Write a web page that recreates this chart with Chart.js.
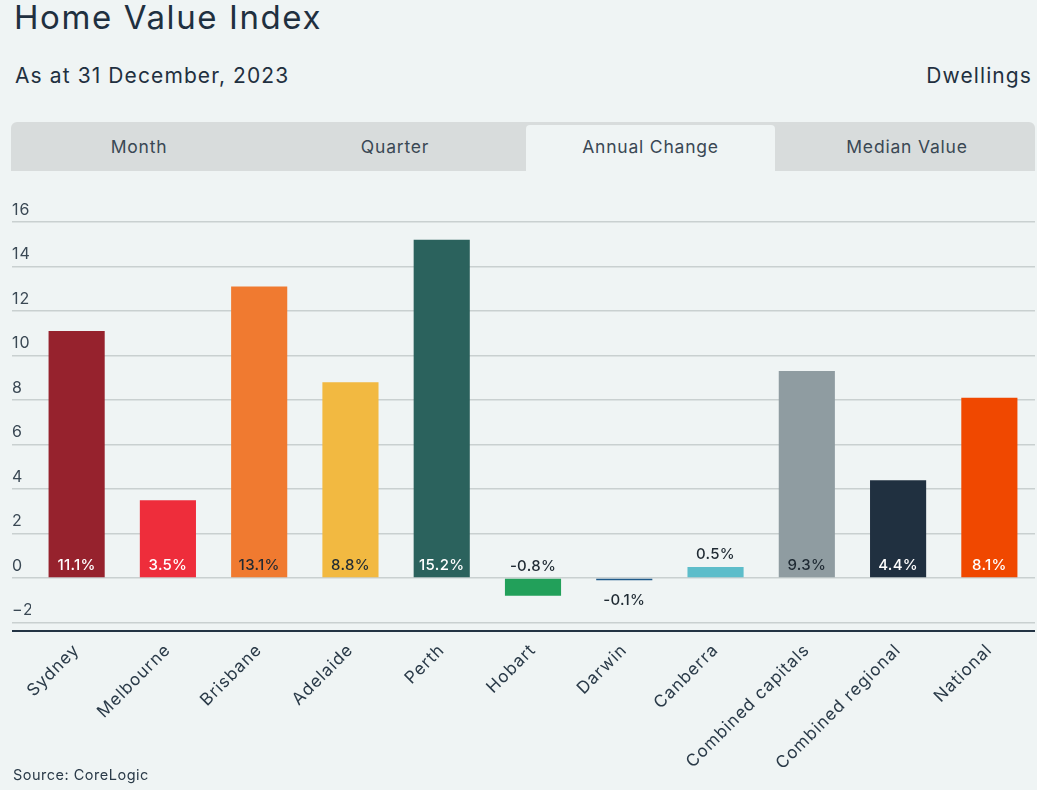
<!DOCTYPE html>
<html>
<head>
<meta charset="utf-8">
<script src="https://cdn.jsdelivr.net/npm/chart.js@4.4.0/dist/chart.umd.min.js"></script>
<style>
  html, body { margin: 0; padding: 0; }
  body {
    width: 1037px; height: 790px; overflow: hidden; position: relative;
    background: #eff4f4; font-family: Inter, "Noto Sans", sans-serif; color: #1f3040;
  }
  #title { position: absolute; left: 14px; top: -3px; font-size: 33px; letter-spacing: 1.6px; }
  #sub { position: absolute; left: 15px; top: 63px; font-size: 21px; letter-spacing: 1.1px; }
  #dw { position: absolute; right: 5px; top: 63px; font-size: 21px; letter-spacing: 1.1px; }
  #tabs {
    position: absolute; left: 11px; top: 122px; width: 1024px; height: 49px;
    background: #d8dcdc; border-radius: 6px 6px 0 0;
  }
  .tab { position: absolute; top: 0; height: 49px; width: 256px; text-align: center;
         line-height: 49px; font-size: 17.5px; letter-spacing: 0.8px; color: #3a4854; }
  .tab.on { background: #eff4f4; top: 3px; height: 46px; line-height: 43px;
            border-radius: 4px 4px 0 0; margin-left: 3px; width: 249px; }
  #wrap { position: absolute; left: 11px; top: 190px; width: 1024px; height: 600px; }
  #src { position: absolute; left: 13px; top: 766px; font-size: 14.5px; letter-spacing: 0.5px; color: #2a3a48; }
</style>
</head>
<body>
<div id="title">Home Value Index</div>
<div id="sub">As at 31 December, 2023</div>
<div id="dw">Dwellings</div>
<div id="tabs">
  <div class="tab" style="left:0">Month</div>
  <div class="tab" style="left:256px">Quarter</div>
  <div class="tab on" style="left:512px">Annual Change</div>
  <div class="tab" style="left:768px">Median Value</div>
</div>
<div id="wrap"><canvas id="chart"></canvas></div>
<div id="src">Source: CoreLogic</div>
<script>
const regions = ['Sydney', 'Melbourne', 'Brisbane', 'Adelaide', 'Perth', 'Hobart', 'Darwin',
  'Canberra', 'Combined capitals', 'Combined regional', 'National']
const annualChange = [11.1, 3.5, 13.1, 8.8, 15.2, -0.8, -0.1, 0.5, 9.3, 4.4, 8.1]
const yTicks = [-2, 0, 2, 4, 6, 8, 10, 12, 14, 16]

const barColors = ['#96222d', '#ee2d3b', '#f07a30', '#f2b941', '#2b625d', '#22a05a',
  '#1f5a8a', '#5dbdca', '#8f9ca1', '#203040', '#f04800']
const labelColors = ['#ffffff', '#ffffff', '#1f2a33', '#1f2a33', '#ffffff', '#1f2a33',
  '#1f2a33', '#1f2a33', '#1f2a33', '#ffffff', '#ffffff']

// wider text on the axes, closer to the original's geometric font
const spacing = {
  id: 'spacing',
  beforeDraw(chart) { chart.ctx.letterSpacing = '1px' },
  beforeDatasetsDraw(chart) { chart.ctx.letterSpacing = '0.3px' },
}

const barLabels = {
  id: 'barLabels',
  afterDatasetsDraw(chart) {
    const ctx = chart.ctx
    const meta = chart.getDatasetMeta(0)
    ctx.save()
    ctx.font = '500 15px Inter, "Noto Sans", sans-serif'
    ctx.textAlign = 'center'
    ctx.textBaseline = 'middle'
    meta.data.forEach((bar, i) => {
      const v = annualChange[i]
      let y = bar.base - 12
      if (v > 0 && v < 2) y = bar.y - 12
      if (v < 0 && v > -0.5) y = bar.y + 20
      ctx.fillStyle = labelColors[i]
      ctx.fillText(v.toFixed(1) + '%', bar.x, y)
    })
    ctx.restore()
  }
}

const baseLine = {
  id: 'baseLine',
  afterDraw(chart) {
    const ctx = chart.ctx
    const y = chart.chartArea.bottom
    ctx.save()
    ctx.strokeStyle = '#233444'
    ctx.lineWidth = 2
    ctx.beginPath()
    ctx.moveTo(chart.scales.y.left, y)
    ctx.lineTo(chart.chartArea.right, y)
    ctx.stroke()
    ctx.restore()
  }
}

new Chart(document.getElementById('chart'), {
  type: 'bar',
  data: {
    labels: regions,
    datasets: [{
      data: annualChange,
      backgroundColor: barColors,
      categoryPercentage: 1,
      barPercentage: 0.615,
    }],
  },
  options: {
    responsive: true,
    maintainAspectRatio: false,
    animation: false,
    layout: { padding: { top: 32, left: 1, right: 0, bottom: 0 } },
    plugins: { legend: { display: false }, tooltip: { enabled: false } },
    scales: {
      x: {
        grid: { display: false, drawTicks: false },
        border: { display: false },
        afterFit: (s) => { s.height = 159 },
        ticks: {
          minRotation: 45, maxRotation: 45, padding: 9, autoSkip: false,
          color: '#2a3a48', font: { family: 'Inter, "Noto Sans", sans-serif', size: 17 },
        },
      },
      y: {
        min: -2.38,
        max: 16,
        afterBuildTicks: (s) => { s.ticks = yTicks.map(v => ({ value: v })) },
        afterFit: (s) => { s.width = 19 },
        grid: { color: '#c9d0d0', lineWidth: 1.5, tickLength: 19 },
        border: { display: false },
        ticks: {
          crossAlign: 'far', labelOffset: -12, padding: 0,
          color: '#3a4854', font: { family: 'Inter, "Noto Sans", sans-serif', size: 16 },
          callback: (v) => (v < 0 ? '\u2212' + Math.abs(v) : v),
        },
      },
    },
  },
  plugins: [spacing, barLabels, baseLine],
})
</script>
</body>
</html>
